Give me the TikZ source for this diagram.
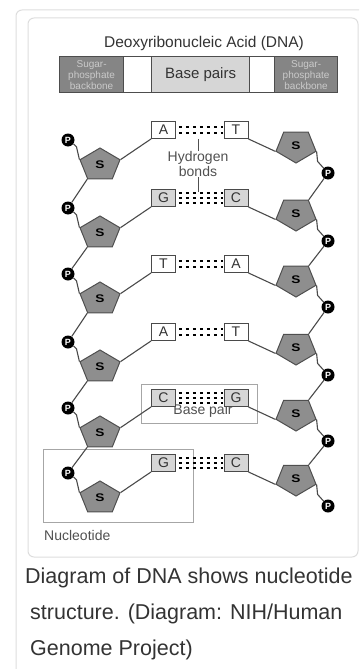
\documentclass[tikz,border=0pt]{standalone}
\usepackage{fontspec}
\setmainfont{Liberation Sans}
\usetikzlibrary{shapes.geometric}

\definecolor{framegrey}{HTML}{DDDDDD}
\definecolor{legenddark}{HTML}{858585}
\definecolor{legendedge}{HTML}{4D4D4D}
\definecolor{legendtext}{HTML}{CACACA}
\definecolor{pairgrey}{HTML}{D6D6D6}
\definecolor{sugarfill}{HTML}{8E8E8E}
\definecolor{sugaredge}{HTML}{4F4F4F}
\definecolor{strandgrey}{HTML}{4A4A4A}
\definecolor{labelgrey}{HTML}{505050}
\definecolor{boxgrey}{HTML}{A6A6A6}
\definecolor{captiongrey}{HTML}{333333}

\tikzset{
  basebox/.style={draw=strandgrey, line width=0.9pt, minimum width=24pt, minimum height=17pt,
    inner sep=0pt, text=black!80, font=\fontsize{14}{14}\selectfont},
  sugarL/.style={regular polygon, regular polygon sides=5, minimum size=40pt, inner sep=0pt,
    draw=sugaredge, line width=1pt, fill=sugarfill, xscale=1.05, yscale=0.85,
    font=\bfseries\fontsize{13}{13}\selectfont},
  sugarR/.style={sugarL, shape border rotate=180},
  phos/.style={circle, fill=black, minimum size=13pt, inner sep=0pt, text=white,
    font=\bfseries\fontsize{9}{9}\selectfont},
  strand/.style={draw=strandgrey, line width=1.1pt},
  hbond/.style={line width=2.5pt, dash pattern=on 2.8pt off 4.2pt, shorten <=3pt, shorten >=1pt},
  lbl/.style={text=labelgrey, font=\fontsize{14}{15}\selectfont, inner sep=0pt},
  legendseg/.style={draw=legendedge, line width=1.2pt, minimum height=36pt, inner sep=0pt, anchor=north west},
  caption/.style={text=captiongrey, font=\fontsize{21.5}{21.5}\selectfont, inner sep=0pt, anchor=base west},
}

\begin{document}
\begin{tikzpicture}[x=1pt, y=-1pt]
    \useasboundingbox (0,0) rectangle (359,669);

    % 1. Frames
    \draw[framegrey, line width=1pt, rounded corners=6pt] (16,669) -- (16,10) -- (359,10);
    \draw[framegrey, line width=1pt, rounded corners=6pt] (28,18) rectangle (358,557);

    % 2. Title and legend bar
    \node[text=captiongrey, font=\fontsize{15.5}{15.5}\selectfont] (title) at (204,43) {Deoxyribonucleic Acid (DNA)};
    \node[legendseg, fill=legenddark, minimum width=64pt, text=legendtext, align=center,
          font=\fontsize{10}{11}\selectfont] (bbL) at (59,56) {Sugar-\\phosphate\\backbone};
    \node[legendseg, fill=white, minimum width=28pt] (gapL) at (123,56) {};
    \node[legendseg, fill=pairgrey, minimum width=98pt, text=captiongrey,
          font=\fontsize{15}{15}\selectfont] (bpLeg) at (151,56) {Base pairs};
    \node[legendseg, fill=white, minimum width=25pt] (gapR) at (249,56) {};
    \node[legendseg, fill=legenddark, minimum width=63pt, text=legendtext, align=center,
          font=\fontsize{10}{11}\selectfont] (bbR) at (274,56) {Sugar-\\phosphate\\backbone};

    % 3. Nucleotide and base pair boxes
    \draw[boxgrey, line width=1pt] (43,449) rectangle (193,522);
    \node[lbl, anchor=west] (nuc) at (44,535) {Nucleotide};
    \draw[boxgrey, line width=1pt] (141,384) rectangle (257,423);
    \node[lbl] (bplbl) at (203,411) {Base pair};

    % 4. Bases, sugars, phosphates
    \foreach \i/\y/\l/\r/\f in {1/130/A/T/white, 2/198/G/C/pairgrey, 3/264/T/A/white,
                                4/332/A/T/white, 5/398/C/G/pairgrey, 6/463/G/C/pairgrey} {
        \node[basebox, fill=\f] (bl\i) at (163.5,\y) {\l};
        \node[basebox, fill=\f] (br\i) at (236,\y) {\r};
        \node[sugarL] (sl\i) at (100,\y+35) {S};
        \node[sugarR] (sr\i) at (296,\y+16) {S};
        \node[phos] (pl\i) at (68,\y+10) {P};
        \node[phos] (pr\i) at (328,\y+43) {P};
    }

    % 5. Backbones
    \foreach \i in {1,...,6} {
        \draw[strand] (pl\i.-35) -- ++(3,3) -- (sl\i.corner 2);
        \draw[strand] (sl\i.corner 5) -- (bl\i.south west);
        \draw[strand] (br\i.south east) -- (sr\i.corner 5);
        \draw[strand] (sr\i.corner 2) -- ++(1,10) -- (pr\i);
    }
    \foreach \i [evaluate=\i as \j using int(\i+1)] in {1,...,5} {
        \draw[strand] (sl\i.corner 3) -- (pl\j);
        \draw[strand] (pr\i) -- (sr\j.corner 3);
    }

    % 6. Hydrogen bonds
    \foreach \i/\offs in {1/{-3,3}, 2/{-5,0,5}, 3/{-3,3}, 4/{-3,3}, 5/{-5,0,5}, 6/{-5,0,5}} {
        \foreach \o in \offs {
            \draw[hbond] ([yshift=\o pt]bl\i.east) -- ([yshift=\o pt]br\i.west);
        }
    }
    \node[lbl, align=center] (hb) at (198,164) {Hydrogen\\bonds};
    \coordinate (hbtop) at (198,139);
    \coordinate (hbbot) at (198,192);
    \draw[labelgrey, line width=0.8pt] (hb.north) -- (hbtop);
    \draw[labelgrey, line width=0.8pt] (hb.south) -- (hbbot);

    % 7. Caption
    \node[caption] (cap1) at (25,583) {Diagram of DNA shows nucleotide};
    \node[caption] (cap2) at (30,619) {structure. (Diagram: NIH/Human};
    \node[caption] (cap3) at (30,655) {Genome Project)};
\end{tikzpicture}
\end{document}
